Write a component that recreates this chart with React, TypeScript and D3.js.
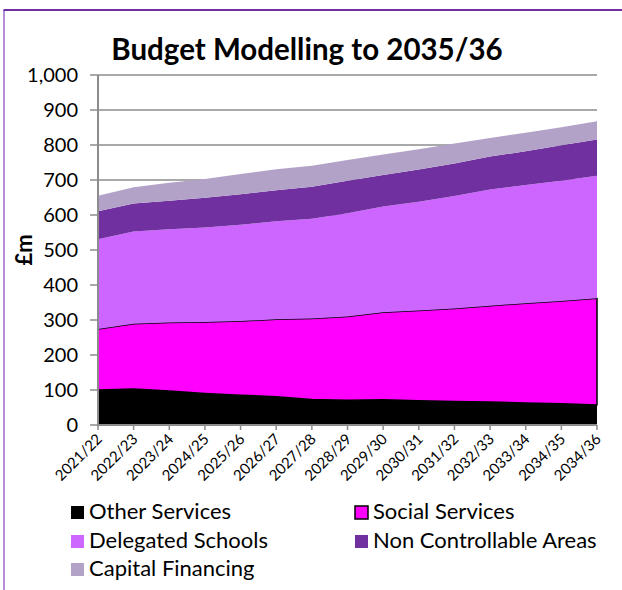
import React from "react";
import * as d3 from "d3";

const categories = ["2021/22","2022/23","2023/24","2024/25","2025/26","2026/27","2027/28","2028/29","2029/30","2030/31","2031/32","2032/33","2033/34","2034/35","2034/36"];
const otherServices = [100,103,97,90,85,81,73,71,72,69,67,66,63,61,57];
const socialServices = [174,186,196,204,212,221,231,239,250,258,266,275,285,293,305];
const delegatedSchools = [257,264,266,270,275,280,285,295,302,311,321,332,338,344,350];
const nonControllable = [80,80,82,85,87,89,92,93,90,92,93,94,96,101,104];
const capitalFinancing = [44,46,51,54,58,60,60,59,59,58,57,53,53,52,52];
const yTicks = [0,100,200,300,400,500,600,700,800,900,1000];

const seriesNames = ["Other Services","Social Services","Delegated Schools","Non Controllable Areas","Capital Financing"];
const seriesColors = ["#000000","#FF00FF","#CC66FF","#7030A0","#B3A2C7"];

const FONT = "Lato, 'Open Sans', sans-serif";

export default function App() {
  const W = 622, H = 590;
  const x = d3.scalePoint<string>().domain(categories).range([98, 597]);
  const y = d3.scaleLinear().domain([0, 1000]).range([425, 75]);

  const table = categories.map((c, i) => ({
    cat: c,
    s0: otherServices[i],
    s1: socialServices[i],
    s2: delegatedSchools[i],
    s3: nonControllable[i],
    s4: capitalFinancing[i],
  }));
  const keys = ["s0","s1","s2","s3","s4"];
  const stacked = d3.stack<any>().keys(keys)(table);
  const area = d3.area<any>()
    .x((d) => x(d.data.cat) as number)
    .y0((d) => y(d[0]))
    .y1((d) => y(d[1]));

  const legend = [
    { i: 0, x: 71, y: 506 },
    { i: 1, x: 355, y: 506 },
    { i: 2, x: 71, y: 535 },
    { i: 3, x: 355, y: 535 },
    { i: 4, x: 71, y: 563 },
  ];

  return (
    <svg width={W} height={H} style={{ position: "absolute", left: 0, top: 0, background: "#fff" }} fontFamily={FONT}>
      <rect x={0} y={0} width={W} height={H} fill="#fff" />
      <line x1={4} y1={10} x2={4} y2={H} stroke="#A066D0" strokeWidth={1.5} />
      <line x1={3.5} y1={10} x2={W} y2={10} stroke="#7030A0" strokeWidth={2} />

      <text x={307} y={60} textAnchor="middle" fontSize={29.5} fontWeight="bold" fill="#000">Budget Modelling to 2035/36</text>

      {yTicks.map((t) => (
        <g key={t}>
          {t > 0 && <line x1={98} x2={597} y1={y(t)} y2={y(t)} stroke="#8c8c8c" strokeWidth={1.5} />}
          <line x1={90} x2={98} y1={y(t)} y2={y(t)} stroke="#8c8c8c" strokeWidth={1.5} />
          <text x={78} y={y(t)} dy="0.36em" textAnchor="end" fontSize={20} fill="#000">{d3.format(",")(t)}</text>
        </g>
      ))}

      {stacked.map((s, i) => (
        <path key={i} d={area(s) as string} fill={seriesColors[i]}
          stroke={i === 1 ? "#000" : "none"} strokeWidth={i === 1 ? 1.5 : 0} strokeLinejoin="round" />
      ))}

      <line x1={98} x2={98} y1={75} y2={425} stroke="#8c8c8c" strokeWidth={2} />
      <line x1={97} x2={597} y1={425} y2={425} stroke="#8c8c8c" strokeWidth={2} />
      {categories.map((c) => (
        <line key={c} x1={x(c)} x2={x(c)} y1={425} y2={430} stroke="#8c8c8c" strokeWidth={1.5} />
      ))}
      {categories.map((c) => (
        <text key={c} transform={`translate(${(x(c) as number) + 5},${440}) rotate(-45)`} textAnchor="end" fontSize={15} fill="#000">{c}</text>
      ))}

      <text transform="translate(32,250) rotate(-90)" textAnchor="middle" fontSize={22} fontWeight="bold" fill="#000">£m</text>

      {legend.map((l) => (
        <g key={l.i}>
          <rect x={l.x} y={l.y} width={13} height={13} fill={seriesColors[l.i]}
            stroke={l.i === 1 ? "#000" : "none"} strokeWidth={l.i === 1 ? 1.5 : 0} />
          <text x={l.x + 18} y={l.y + 13} fontSize={22} fill="#000">{seriesNames[l.i]}</text>
        </g>
      ))}
    </svg>
  );
}
